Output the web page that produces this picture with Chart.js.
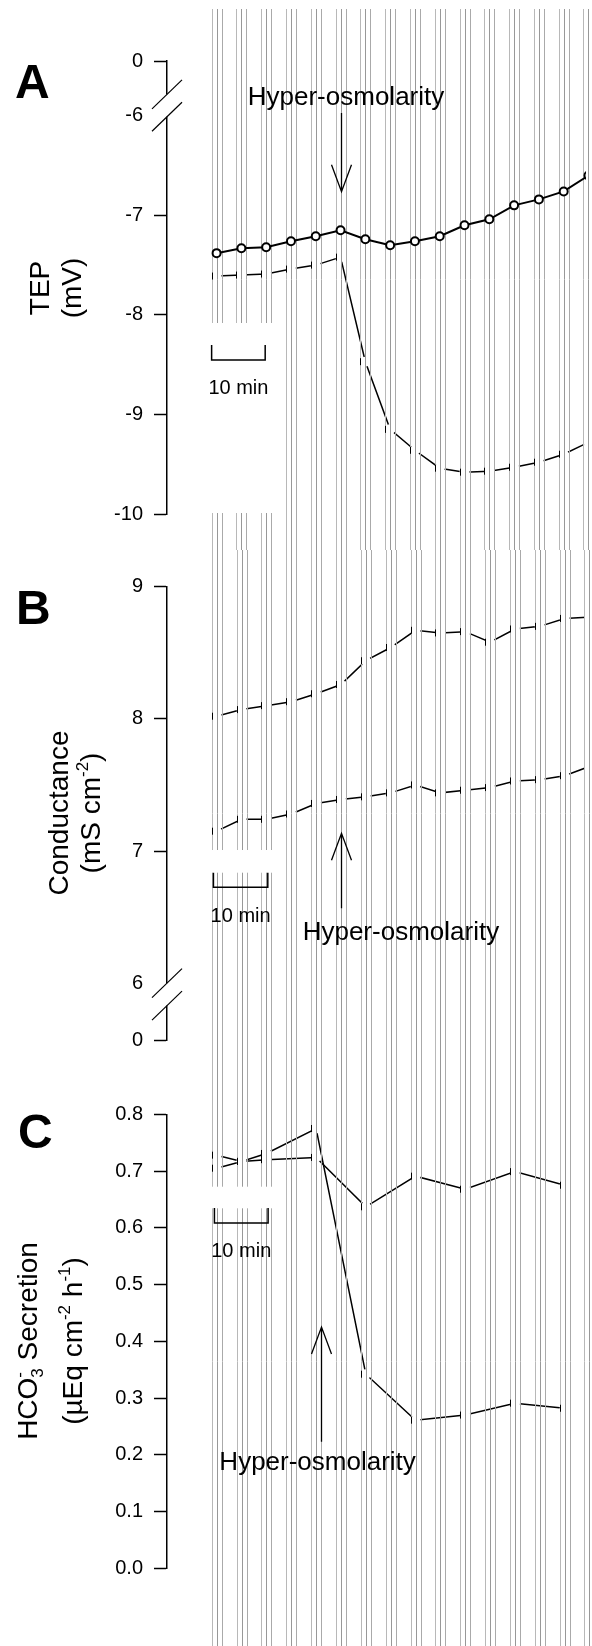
<!DOCTYPE html>
<html>
<head>
<meta charset="utf-8">
<script src="https://cdn.jsdelivr.net/npm/chart.js@4.4.1/dist/chart.umd.min.js"></script>
<style>
  body { margin: 0; background: #fff; }
  .panel { position: absolute; left: 0; width: 592px; }
</style>
</head>
<body>
<div class="panel" style="top:0;height:550px"><canvas id="chartA"></canvas></div>
<div class="panel" style="top:550px;height:527px"><canvas id="chartB"></canvas></div>
<div class="panel" style="top:1077px;height:569px"><canvas id="chartC"></canvas></div>
<script>
// sampling times (min)
const minutes = [0, 5, 10, 15, 20, 25, 30, 35, 40, 45, 50, 55, 60, 65, 70, 75]

// A - TEP (mV)
const tepControl = [-7.38, -7.33, -7.32, -7.26, -7.21, -7.15, -7.24, -7.30, -7.26, -7.21, -7.10, -7.04, -6.90, -6.84, -6.76, -6.60]
const tepHyper = [-7.61, -7.60, -7.59, -7.54, -7.50, -7.42, -8.47, -9.15, -9.36, -9.54, -9.58, -9.57, -9.53, -9.48, -9.40, -9.28]
const tepTicks = [-10, -9, -8, -7, -6, -5.45]
const tepTickLabels = ['-10', '-9', '-8', '-7', '-6', '0']

// B - conductance (mS cm-2)
const condUpper = [8.02, 8.07, 8.10, 8.13, 8.19, 8.26, 8.44, 8.54, 8.67, 8.65, 8.66, 8.58, 8.68, 8.70, 8.76, 8.77]
const condLower = [7.15, 7.24, 7.24, 7.28, 7.36, 7.39, 7.41, 7.44, 7.50, 7.44, 7.46, 7.48, 7.53, 7.54, 7.57, 7.64]
const condTicks = [5.57, 6, 7, 8, 9]
const condTickLabels = ['0', '6', '7', '8', '9']

// C - HCO3- secretion (uEq cm-2 h-1)
const hco3Control = [0.705, 0.717, 0.720, null, 0.724, null, 0.637, null, 0.691, null, 0.668, null, 0.699, null, 0.675, null]
const hco3Hyper = [0.728, 0.717, 0.731, null, 0.775, null, 0.342, null, 0.261, null, 0.270, null, 0.291, null, 0.282, null]
const hco3Ticks = [0, 0.1, 0.2, 0.3, 0.4, 0.5, 0.6, 0.7, 0.8]
const hco3TickLabels = ['0.0', '0.1', '0.2', '0.3', '0.4', '0.5', '0.6', '0.7', '0.8']

const FONT = '"Liberation Sans", Arial, sans-serif'
Chart.defaults.font.family = FONT
Chart.defaults.color = '#000'

const GRID_OFFSETS = [-5, 0, 5]
const GRID_COLORS = ['#b8b8b8', '#989898', '#aaaaaa']

const toPoints = (arr) => minutes.map((m, i) => ({ x: m, y: arr[i] }))

// rotated axis title with sub/superscripts
function drawRich(ctx, runs, bx, cy, size) {
    const small = Math.round(size * 0.62)
    const width = (r) => {
        if (r.t) { ctx.font = size + 'px ' + FONT; return ctx.measureText(r.t).width }
        ctx.font = small + 'px ' + FONT
        return Math.max(r.sub ? ctx.measureText(r.sub).width : 0, r.sup ? ctx.measureText(r.sup).width : 0)
    }
    ctx.save()
    ctx.translate(bx, cy)
    ctx.rotate(-Math.PI / 2)
    ctx.fillStyle = '#000'
    ctx.textAlign = 'left'
    ctx.textBaseline = 'alphabetic'
    const widths = runs.map(width)
    let x = -widths.reduce((a, b) => a + b, 0) / 2
    runs.forEach((r, i) => {
        if (r.t) {
            ctx.font = size + 'px ' + FONT
            ctx.fillText(r.t, x, 0)
        } else {
            ctx.font = small + 'px ' + FONT
            if (r.sub) ctx.fillText(r.sub, x, size * 0.22)
            if (r.sup) ctx.fillText(r.sup, x, -size * 0.42)
        }
        x += widths[i]
    })
    ctx.restore()
}

const figurePlugin = {
    id: 'figure',
    afterDatasetDraw(chart, args, o) {
        if (args.index !== o.linesAfter) return
        const ctx = chart.ctx
        const xs = chart.scales.x
        ctx.save()
        ctx.lineWidth = 1
        minutes.forEach((m) => {
            const px = xs.getPixelForValue(m)
            GRID_OFFSETS.forEach((d, k) => {
                const x = Math.round(px + d) + 0.5
                ctx.strokeStyle = GRID_COLORS[k]
                ctx.beginPath()
                ctx.moveTo(x, o.linesTop)
                ctx.lineTo(x, chart.height)
                ctx.stroke()
            })
        })
        const b = o.blank
        ctx.fillStyle = '#fff'
        ctx.fillRect(b[0], b[1], b[2] - b[0], b[3] - b[1])
        ctx.restore()
    },
    afterDraw(chart, args, o) {
        const ctx = chart.ctx
        const xs = chart.scales.x
        const ys = chart.scales.y
        ctx.save()
        ctx.strokeStyle = '#000'
        ctx.fillStyle = '#000'

        // small error-bar ticks beside the unmarked series
        ctx.lineWidth = 1
        chart.data.datasets.forEach((ds, i) => {
            if (!ds.errTicks) return
            chart.getDatasetMeta(i).data.forEach((pt) => {
                if (pt.skip || pt.x > chart.chartArea.right) return
                const x = Math.round(pt.x - 5) + 0.5
                ctx.beginPath()
                ctx.moveTo(x, pt.y - 3.5)
                ctx.lineTo(x, pt.y + 3.5)
                ctx.stroke()
            })
        })

        // axis break
        if (o.breaks) {
            const left = chart.chartArea.left
            const yb = o.breaks.map((v) => ys.getPixelForValue(v))
            ctx.fillStyle = '#fff'
            ctx.fillRect(left - 3, Math.min(...yb), 6, Math.abs(yb[1] - yb[0]))
            ctx.fillStyle = '#000'
            ctx.lineWidth = 1.2
            yb.forEach((y) => {
                ctx.beginPath()
                ctx.moveTo(left - 15, y + 14.5)
                ctx.lineTo(left + 15, y - 14.5)
                ctx.stroke()
            })
        }

        // 10 min scale bar
        const sb = o.scaleBar
        const x0 = xs.getPixelForValue(sb.from)
        const x1 = xs.getPixelForValue(sb.to)
        ctx.lineWidth = 1.5
        ctx.beginPath()
        ctx.moveTo(x0, sb.top)
        ctx.lineTo(x0, sb.bottom)
        ctx.lineTo(x1, sb.bottom)
        ctx.lineTo(x1, sb.top)
        ctx.stroke()
        ctx.font = '20px ' + FONT
        ctx.textAlign = 'center'
        ctx.textBaseline = 'alphabetic'
        ctx.fillText('10 min', (x0 + x1) / 2, sb.labelY)

        // hyper-osmolarity arrow
        const ar = o.arrow
        const ax = Math.round(xs.getPixelForValue(ar.at)) + 0.5
        const dir = Math.sign(ar.tail - ar.tip)
        ctx.lineWidth = 1.3
        ctx.beginPath()
        ctx.moveTo(ax, ar.tail)
        ctx.lineTo(ax, ar.tip)
        ctx.moveTo(ax - 10, ar.tip + dir * 27)
        ctx.lineTo(ax, ar.tip)
        ctx.lineTo(ax + 10, ar.tip + dir * 27)
        ctx.stroke()
        ctx.font = '26px ' + FONT
        ctx.fillText('Hyper-osmolarity', xs.getPixelForValue(ar.labelAt), ar.labelY)

        // panel letter
        ctx.textAlign = 'left'
        ctx.font = 'bold 48px ' + FONT
        ctx.fillText(o.letter.text, o.letter.x, o.letter.y)

        // axis title
        o.title.lines.forEach((runs, i) => drawRich(ctx, runs, o.title.baselines[i], o.title.centers[i], 28))
        ctx.restore()
    }
}

function yScale(min, max, values, labels, hidden) {
    return {
        type: 'linear',
        min: min,
        max: max,
        afterFit: (s) => { s.width = 167 },
        afterBuildTicks: (s) => { s.ticks = values.map((v) => ({ value: v })) },
        ticks: {
            color: '#000',
            padding: 11,
            font: { size: 20 },
            callback: (v, i) => labels[i]
        },
        grid: {
            drawOnChartArea: false,
            tickLength: 13,
            tickWidth: 1.5,
            tickColor: (c) => (c.tick && hidden.includes(c.tick.value)) ? 'rgba(0,0,0,0)' : '#000'
        },
        border: { color: '#000', width: 1.5 }
    }
}

function lineSet(data, opts) {
    return Object.assign({
        data: toPoints(data),
        borderColor: '#000',
        borderWidth: 1.5,
        pointRadius: 5,
        pointBackgroundColor: '#fff',
        pointBorderColor: '#fff',
        pointBorderWidth: 0,
        tension: 0,
        spanGaps: true,
        errTicks: true
    }, opts)
}

function makePanel(id, datasets, y, padding, deco) {
    return new Chart(document.getElementById(id), {
        type: 'line',
        data: { datasets: datasets },
        options: {
            responsive: true,
            maintainAspectRatio: false,
            animation: false,
            events: [],
            layout: { padding: padding },
            plugins: {
                legend: { display: false },
                tooltip: { enabled: false },
                figure: deco
            },
            scales: {
                x: { type: 'linear', min: -10, max: 74.5, display: false },
                y: y
            }
        },
        plugins: [figurePlugin]
    })
}

makePanel('chartA', [
    lineSet(tepControl, { borderWidth: 2, pointRadius: 4, pointBorderColor: '#000', pointBorderWidth: 2, order: 1, errTicks: false }),
    lineSet(tepHyper, { order: 2 })
], yScale(-10, -5.45, tepTicks, tepTickLabels, [-6]),
{ top: 61, bottom: 36, left: 0, right: 0 }, {
    linesAfter: 1,
    linesTop: 9,
    blank: [211, 323, 274, 513],
    breaks: [-5.785, -6.01],
    scaleBar: { from: -1, to: 9.8, top: 345, bottom: 360, labelY: 394 },
    arrow: { at: 25, tail: 113, tip: 191.7, labelAt: 26.1, labelY: 105 },
    letter: { text: 'A', x: 15, y: 98 },
    title: { lines: [[{ t: 'TEP' }], [{ t: '(mV)' }]], baselines: [49, 81], centers: [288, 288] }
})

makePanel('chartB', [
    lineSet(condUpper),
    lineSet(condLower)
], yScale(5.57, 9, condTicks, condTickLabels, [6]),
{ top: 36.7, bottom: 37, left: 0, right: 0 }, {
    linesAfter: 0,
    linesTop: 0,
    blank: [211, 300, 274, 322.7],
    breaks: [6.0, 5.83],
    scaleBar: { from: -0.66, to: 10.28, top: 322.7, bottom: 337.3, labelY: 371.7 },
    arrow: { at: 25, tail: 358.3, tip: 283.3, labelAt: 37.06, labelY: 390 },
    letter: { text: 'B', x: 16, y: 74 },
    title: {
        lines: [[{ t: 'Conductance' }], [{ t: '(mS cm' }, { sup: '-2' }, { t: ')' }]],
        baselines: [68, 100],
        centers: [263, 263]
    }
})

makePanel('chartC', [
    lineSet(hco3Control),
    lineSet(hco3Hyper)
], yScale(0, 0.8, hco3Ticks, hco3TickLabels, []),
{ top: 37.3, bottom: 77.7, left: 0, right: 0 }, {
    linesAfter: 0,
    linesTop: 0,
    blank: [211, 109.7, 274, 131.3],
    scaleBar: { from: -0.46, to: 10.34, top: 131, bottom: 146, labelY: 179.7 },
    arrow: { at: 21, tail: 364.7, tip: 250, labelAt: 20.3, labelY: 393 },
    letter: { text: 'C', x: 18, y: 71 },
    title: {
        lines: [
            [{ t: 'HCO' }, { sub: '3', sup: '-' }, { t: ' Secretion' }],
            [{ t: '(\u00b5Eq cm' }, { sup: '-2' }, { t: ' h' }, { sup: '-1' }, { t: ')' }]
        ],
        baselines: [36.7, 81.7],
        centers: [264, 264]
    }
})
</script>
</body>
</html>
